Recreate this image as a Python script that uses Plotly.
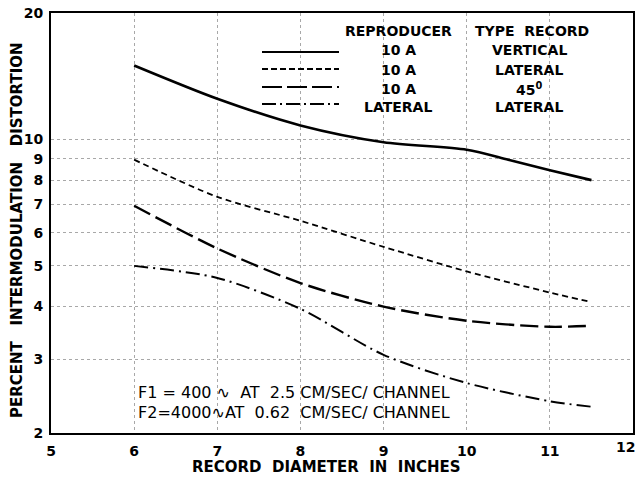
import plotly.graph_objects as go

# Data
diam_vertical = [6, 7, 8, 9, 10, 10.5, 11, 11.5]
dist_vertical = [15.0, 12.5, 10.8, 9.85, 9.45, 8.95, 8.45, 8.0]

diam_lat10a = [6, 7, 8, 9, 10, 11, 11.5]
dist_lat10a = [8.95, 7.3, 6.4, 5.55, 4.85, 4.32, 4.1]

diam_45 = [6, 7, 8, 9, 10, 11, 11.5]
dist_45 = [6.95, 5.5, 4.55, 4.0, 3.7, 3.58, 3.6]

diam_lat = [6, 7, 8, 9, 10, 11, 11.5]
dist_lat = [5.0, 4.68, 3.95, 3.07, 2.63, 2.38, 2.31]

x_ticks = [5, 6, 7, 8, 9, 10, 11]
x_last_tick = 12
y_ticks = [2, 3, 4, 5, 6, 7, 8, 9, 10, 20]

legend_rows = [
    ("10 A", "VERTICAL", "solid"),
    ("10 A", "LATERAL", "6px,3px"),
    ("10 A", "45<sup>0</sup>", "20px,5px"),
    ("LATERAL", "LATERAL", "14px,4px,2px,4px"),
]

FONT = "DejaVu Sans"

fig = go.Figure()
series = [
    (diam_vertical, dist_vertical, "solid", 2.6),
    (diam_lat10a, dist_lat10a, "6px,4px", 1.8),
    (diam_45, dist_45, "18px,6px", 2.4),
    (diam_lat, dist_lat, "14px,5px,2px,5px", 2.0),
]
for xs, ys, dash, w in series:
    fig.add_trace(go.Scatter(
        x=xs, y=ys, mode="lines",
        line=dict(color="black", width=w, dash=dash, shape="spline", smoothing=0.8),
        showlegend=False, hoverinfo="skip",
    ))

# Full-window figure (page body margin removed in post_script)
W, H = 638, 480
L, R, T, B = 51, 5, 13, 47
pw, ph = W - L - R, H - T - B

def px(xp):
    return (xp - L) / pw

def py(yp):
    return 1 - (yp - T) / ph

hdr_font = dict(family=FONT, size=14, color="black")
fig.add_annotation(x=px(398), y=py(31), xref="paper", yref="paper", text="<b>REPRODUCER</b>",
                   showarrow=False, font=hdr_font, xanchor="center", yanchor="middle")
fig.add_annotation(x=px(532), y=py(31), xref="paper", yref="paper", text="<b>TYPE&nbsp;&nbsp;RECORD</b>",
                   showarrow=False, font=hdr_font, xanchor="center", yanchor="middle")
row_y = [50, 70, 89, 107]
line_y = [52, 69, 87, 104]
for (rep, typ, dash), ry, ly in zip(legend_rows, row_y, line_y):
    fig.add_shape(type="line", xref="paper", yref="paper", x0=px(262), x1=px(339),
                  y0=py(ly), y1=py(ly), line=dict(color="black", width=2, dash=dash))
    fig.add_annotation(x=px(398), y=py(ry), xref="paper", yref="paper", text="<b>%s</b>" % rep,
                       showarrow=False, font=hdr_font, xanchor="center", yanchor="middle")
    fig.add_annotation(x=px(529), y=py(ry), xref="paper", yref="paper", text="<b>%s</b>" % typ,
                       showarrow=False, font=hdr_font, xanchor="center", yanchor="middle")

note_font = dict(family=FONT, size=16, color="black")
fig.add_annotation(x=px(136), y=py(392), xref="paper", yref="paper",
                   text="F1 = 400 ∿&nbsp;&nbsp;AT&nbsp;&nbsp;2.5 CM/SEC/ CHANNEL",
                   showarrow=False, font=note_font, xanchor="left", yanchor="middle")
fig.add_annotation(x=px(136), y=py(412), xref="paper", yref="paper",
                   text="F2=4000∿AT&nbsp;&nbsp;0.62&nbsp;&nbsp;CM/SEC/ CHANNEL",
                   showarrow=False, font=note_font, xanchor="left", yanchor="middle")

# Axis titles
title_font = dict(family=FONT, size=15, color="black")
fig.add_annotation(x=px(326), y=py(467), xref="paper", yref="paper",
                   text="<b>RECORD&nbsp;&nbsp;DIAMETER&nbsp;&nbsp;IN&nbsp;&nbsp;INCHES</b>", showarrow=False,
                   font=title_font, xanchor="center", yanchor="middle")
fig.add_annotation(x=px(17), y=py(230), xref="paper", yref="paper",
                   text="<b>PERCENT&nbsp;&nbsp;&nbsp;INTERMODULATION&nbsp;&nbsp;&nbsp;DISTORTION</b>", showarrow=False,
                   font=title_font, xanchor="center", yanchor="middle", textangle=-90)

tick_font = dict(family=FONT, size=14, color="black")
# last x tick label sits at the right border; anchored right so it stays inside the page
fig.add_annotation(x=x_last_tick, y=py(447), xref="x", yref="paper", text="<b>%d</b>" % x_last_tick,
                   showarrow=False, font=tick_font, xanchor="right", yanchor="middle", xshift=4)

fig.update_xaxes(
    range=[5, 12], tickvals=x_ticks, ticktext=["<b>%d</b>" % v for v in x_ticks],
    showgrid=True, gridcolor="#a8a8a8", gridwidth=1, griddash="dot",
    showline=True, linecolor="black", linewidth=2, mirror=True,
    ticks="", ticklen=0, tickfont=tick_font, zeroline=False, automargin=False,
    ticklabeloverflow="allow", ticklabelstandoff=4,
)
fig.update_yaxes(
    type="log", range=[0.30103, 1.30103], tickvals=y_ticks,
    ticktext=["<b>%d</b>" % v for v in y_ticks],
    showgrid=True, gridcolor="#a8a8a8", gridwidth=1, griddash="dot",
    showline=True, linecolor="black", linewidth=2, mirror=True,
    ticks="", ticklen=0, tickfont=tick_font, zeroline=False, automargin=False,
    ticklabeloverflow="allow", ticklabelstandoff=3,
)
fig.update_layout(
    width=W, height=H,
    margin=dict(l=L, r=R, t=T, b=B),
    paper_bgcolor="white", plot_bgcolor="white",
    font=dict(family=FONT, color="black"),
)
fig.write_html("out.html", config={"displayModeBar": False},
               post_script="document.body.style.margin='0';document.body.style.overflow='hidden';")
